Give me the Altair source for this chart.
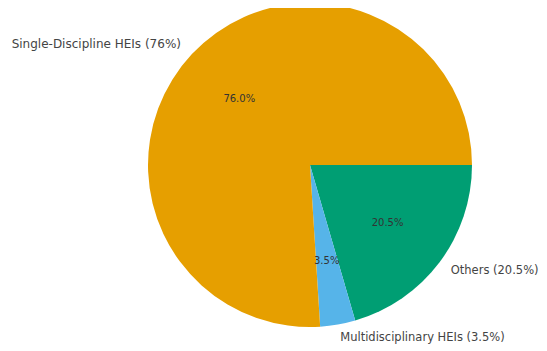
import math
import altair as alt
import pandas as pd

categories = ["Others", "Multidisciplinary HEIs", "Single-Discipline HEIs"]
values = [20.5, 3.5, 76.0]
labels = ["Others (20.5%)", "Multidisciplinary HEIs (3.5%)", "Single-Discipline HEIs (76%)"]
pct_labels = ["20.5%", "3.5%", "76.0%"]
colors = ["#009E73", "#56B4E9", "#E69F00"]
orders = [1, 2, 3]

df = pd.DataFrame({
    "cat": categories, "v": values, "label": labels, "pct": pct_labels, "o": orders,
})

theta_scale = alt.Scale(range=[math.pi / 2, math.pi / 2 + 2 * math.pi])
theta = alt.Theta("v:Q", stack=True, scale=theta_scale)
order = alt.Order("o:Q", sort="ascending")
cx = alt.value(302)
cy = alt.value(157)

base = alt.Chart(df)

arcs = base.mark_arc(outerRadius=162, stroke=None).encode(
    theta=theta, order=order, x=cx, y=cy,
    color=alt.Color("cat:N", scale=alt.Scale(domain=categories, range=colors), legend=None),
)

pct = base.mark_text(radius=97, font="DejaVu Sans", fontSize=10, color="#333333",
                     align="center", baseline="middle").encode(
    theta=theta, order=order, detail="cat:N", x=cx, y=cy, text="pct:N",
)

lab_left = base.transform_calculate(
    t="datum.cat == 'Single-Discipline HEIs' ? '' : datum.label"
).mark_text(radius=176, font="DejaVu Sans", fontSize=11.5, color="#444444",
            align="left", baseline="middle").encode(
    theta=theta, order=order, detail="cat:N", x=cx, y=cy, text="t:N",
)

lab_right = base.transform_calculate(
    t="datum.cat == 'Single-Discipline HEIs' ? datum.label : ''"
).mark_text(radius=177, font="DejaVu Sans", fontSize=12, color="#444444",
            align="right", baseline="middle").encode(
    theta=theta, order=order, detail="cat:N", x=cx, y=cy, text="t:N",
)

chart = alt.layer(arcs, pct, lab_left, lab_right).properties(
    width=531, height=337, padding=0, autosize="none"
).configure_view(stroke=None)

chart.save("out.html", embed_options={"renderer": "svg", "actions": False})
